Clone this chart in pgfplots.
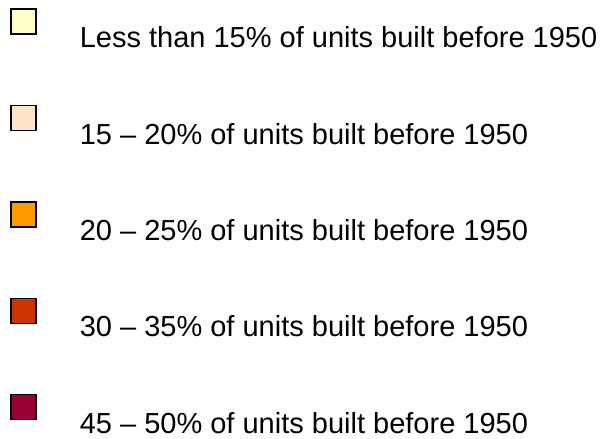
\documentclass[border=0pt]{standalone}
\usepackage{pgfplots}
\pgfplotsset{compat=1.18}
\usepackage{fontspec}
\setmainfont{Liberation Sans}
\definecolor{c1}{HTML}{FFFFCC}
\definecolor{c2}{HTML}{FFE4C9}
\definecolor{c3}{HTML}{FF9900}
\definecolor{c4}{HTML}{CC3300}
\definecolor{c5}{HTML}{990033}
\begin{document}
\begin{tikzpicture}[x=1bp,y=1bp]
\useasboundingbox (0,0) rectangle (607,439);
\begin{axis}[
  at={(0,0)}, anchor=south west,
  scale only axis, width=607bp, height=439bp,
  hide axis, xmin=0, xmax=1, ymin=0, ymax=1,
  legend cell align=left,
  legend image code/.code={\draw[line width=1.3bp,#1] (0bp,3bp) rectangle (25bp,28bp);},
  legend style={
    at={(10.5/607,1-8.5/439)}, anchor=north west,
    draw=none, fill=none, inner sep=0pt, outer sep=0pt,
    row sep=57.2bp, column sep=43bp,
    font=\fontsize{29bp}{35bp}\selectfont,
    nodes={inner sep=0pt, text depth=0pt},
  },
]
\addlegendimage{draw=black, fill=c1}
\addlegendentry{Less than 15\% of units built before 1950}
\addlegendimage{draw=black, fill=c2}
\addlegendentry{15 -- 20\% of units built before 1950}
\addlegendimage{draw=black, fill=c3}
\addlegendentry{20 -- 25\% of units built before 1950}
\addlegendimage{draw=black, fill=c4}
\addlegendentry{30 -- 35\% of units built before 1950}
\addlegendimage{draw=black, fill=c5}
\addlegendentry{45 -- 50\% of units built before 1950}
\end{axis}
\end{tikzpicture}
\end{document}
